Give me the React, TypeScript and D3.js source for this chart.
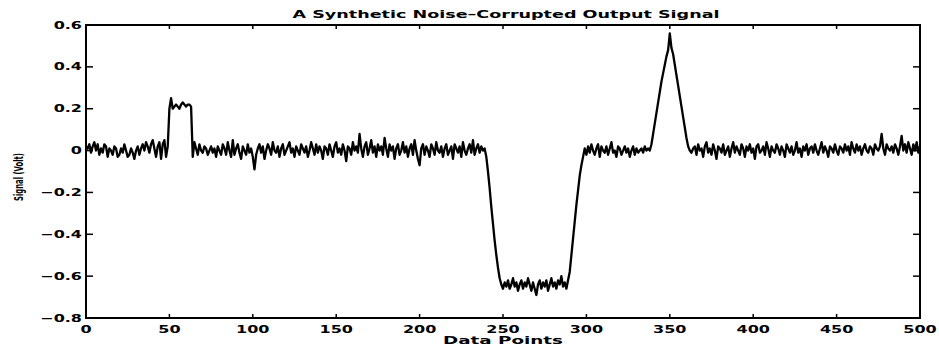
import React from "react";
import * as d3 from "d3";

// ---- data (volts), one value per data point index 0..500 ----
const baselineA = [
  0.02, 0.01, 0.03, -0.01, 0.02, 0.04, 0.00, 0.03, -0.02, 0.01,
  -0.01, 0.03, 0.02, -0.03, 0.01, 0.00, -0.02, 0.02, 0.01, -0.03,
  -0.02, 0.01, -0.01, 0.03, 0.00, -0.03, -0.02, 0.01, -0.01, -0.04,
  0.00, 0.02, -0.02, 0.01, 0.03, 0.00, 0.04, 0.02, -0.01, 0.03,
  0.05, 0.01, -0.03, 0.02, 0.04, -0.04, 0.03, 0.05, -0.03, 0.02,
];
const pulse = [0.20, 0.25, 0.20, 0.21, 0.22, 0.21, 0.20, 0.22, 0.23, 0.22, 0.21, 0.22, 0.22, 0.21];
const baselineB = [
  -0.03, 0.04, 0.01, -0.02, 0.03, 0.00, -0.01, 0.02, 0.01, -0.02,
  0.00, 0.02, -0.01, 0.01, -0.03, 0.02, 0.00, -0.02, 0.03, 0.01,
  -0.02, 0.04, 0.00, -0.03, 0.05, -0.02, 0.01, 0.03, -0.01, -0.04,
  0.02, 0.00, -0.02, 0.03, -0.01, 0.01, -0.03, -0.09, -0.02, 0.01,
  0.03, -0.01, 0.02, -0.04, 0.00, 0.03, 0.01, -0.02, 0.04, 0.00,
  -0.01, 0.02, -0.03, 0.01, 0.03, -0.02, 0.00, 0.02, 0.04, -0.01,
  0.01, -0.03, 0.02, 0.00, -0.02, 0.03, 0.01, -0.01, 0.02, -0.03,
  0.00, 0.04, 0.01, -0.02, 0.03, -0.01, 0.02, 0.00, -0.04, 0.02,
  0.01, -0.02, 0.03, 0.00, -0.03, 0.02, 0.04, -0.01, 0.01, -0.02,
  0.03, 0.00, -0.05, 0.02, 0.01, -0.02, 0.04, 0.00, 0.02, -0.01,
  0.08, 0.01, -0.03, 0.02, 0.04, -0.02, 0.01, 0.05, -0.01, 0.02,
  -0.03, 0.03, 0.00, 0.02, -0.02, 0.06, 0.01, -0.03, 0.03, 0.00,
  0.02, -0.04, 0.01, 0.03, -0.02, 0.00, 0.04, -0.01, 0.02, -0.03,
  0.01, 0.03, -0.02, 0.05, 0.00, -0.04, -0.07, 0.01, 0.03, -0.02,
  0.02, 0.00, -0.03, 0.03, 0.01, -0.02, 0.04, 0.00, -0.01, 0.02,
  -0.03, 0.01, 0.03, -0.02, 0.00, 0.02, -0.04, 0.03, 0.01, -0.01,
  0.02, -0.03, 0.04, 0.00, -0.02, 0.01, 0.03, -0.01, 0.05, -0.02,
  0.01, 0.03, -0.01, 0.02, 0.00, 0.01,
];
const dropEdge = [-0.03, -0.10, -0.18, -0.27, -0.35, -0.43, -0.50, -0.56, -0.61, -0.64, -0.66];
const plateau = [
  -0.63, -0.65, -0.62, -0.66, -0.64, -0.61, -0.65, -0.63, -0.67, -0.64,
  -0.62, -0.66, -0.63, -0.65, -0.61, -0.64, -0.67, -0.63, -0.66, -0.69,
  -0.64, -0.62, -0.66, -0.63, -0.65, -0.62, -0.67, -0.64, -0.61, -0.65,
  -0.63, -0.66, -0.62, -0.64, -0.60, -0.65, -0.63, -0.66, -0.62,
];
const riseEdge = [-0.58, -0.50, -0.42, -0.34, -0.26, -0.19, -0.12, -0.07, -0.03, 0.01, -0.02];
const baselineC = [
  0.02, -0.01, 0.03, 0.00, -0.02, 0.01, 0.03, -0.03, 0.02, 0.00,
  -0.01, 0.02, -0.02, 0.01, 0.04, -0.01, 0.00, -0.03, 0.02, 0.01,
  -0.02, 0.00, 0.02, -0.01, 0.01, -0.03, 0.00, 0.02, -0.02, 0.01,
  -0.01, 0.00,
];
const peak = [
  0.01, -0.01, 0.02, 0.00, 0.01, 0.00,
  0.03, 0.08, 0.13, 0.18, 0.23, 0.28, 0.33, 0.37, 0.41, 0.45,
  0.48, 0.56, 0.49, 0.46, 0.41, 0.36, 0.31, 0.26, 0.21, 0.16,
  0.11, 0.06, 0.02, 0.00, -0.01, 0.01,
];
const baselineD = [
  0.02, -0.02, 0.03, 0.00, 0.01, -0.03, 0.02, 0.04, -0.01, 0.01,
  -0.02, 0.03, 0.00, -0.04, 0.02, 0.01, -0.01, 0.03, -0.02, 0.00,
  0.02, -0.03, 0.01, 0.04, -0.01, 0.02, 0.00, -0.02, 0.03, 0.01,
  -0.03, 0.02, 0.00, 0.03, -0.01, 0.01, -0.04, 0.02, 0.03, -0.01,
  0.00, 0.02, -0.02, 0.04, 0.01, -0.03, 0.02, 0.00, -0.01, 0.03,
  0.01, -0.02, 0.02, 0.00, -0.03, 0.03, 0.01, -0.01, 0.02, -0.02,
  0.00, 0.04, -0.01, 0.01, -0.03, 0.02, 0.00, 0.03, -0.02, 0.01,
  0.02, -0.01, 0.03, 0.00, -0.02, 0.01, 0.04, -0.01, 0.02, 0.00,
  -0.03, 0.02, 0.01, -0.01, 0.03, 0.00, -0.02, 0.02, 0.01, -0.01,
  0.03, 0.00, 0.02, -0.02, 0.04, 0.01, -0.01, 0.03, 0.00, 0.02,
  -0.02, 0.01, 0.03, 0.00, -0.01, 0.02, 0.01, -0.02, 0.03, 0.01,
  0.00, 0.02, 0.08, 0.01, -0.02, 0.03, 0.01, 0.00, 0.02, -0.01,
  0.03, 0.01, -0.02, 0.02, 0.07, 0.00, 0.03, -0.01, 0.04, 0.01,
  -0.02, 0.03, 0.00, 0.04, -0.01, 0.02,
];

const signal = [
  ...baselineA, ...pulse, ...baselineB, ...dropEdge, ...plateau,
  ...riseEdge, ...baselineC, ...peak, ...baselineD,
];

const xTicks = [0, 50, 100, 150, 200, 250, 300, 350, 400, 450, 500];
const yTicks = [-0.8, -0.6, -0.4, -0.2, 0, 0.2, 0.4, 0.6];

const titleText = "A Synthetic Noise\u2013Corrupted Output Signal";
const xLabel = "Data Points";
const yLabel = "Signal (Volt)";

const W = 939;
const H = 350;
const M = { left: 86, right: 920, top: 25, bottom: 318 };
const FONT = "'DejaVu Sans', Arial, sans-serif";

function fmt(v: number) {
  if (Math.abs(v) < 1e-9) return "0";
  const s = Math.abs(v).toFixed(1);
  return (v < 0 ? "\u2212" : "") + s;
}

export default function App() {
  const x = d3.scaleLinear().domain([0, 500]).range([M.left, M.right]);
  const y = d3.scaleLinear().domain([-0.8, 0.6]).range([M.bottom, M.top]);
  const line = d3
    .line<number>()
    .x((_, i) => x(i))
    .y((d) => y(d))
    .curve(d3.curveLinear);

  return (
    <svg
      width={W}
      height={H}
      style={{ position: "absolute", left: 0, top: 0, background: "#fff" }}
    >
      <rect x={0} y={0} width={W} height={H} fill="#fff" />
      {/* data line */}
      <path
        d={line(signal) || ""}
        fill="none"
        stroke="#000"
        strokeWidth={2.3}
        strokeLinejoin="round"
      />
      {/* frame */}
      <rect
        x={M.left}
        y={M.top}
        width={M.right - M.left}
        height={M.bottom - M.top}
        fill="none"
        stroke="#000"
        strokeWidth={2}
      />
      {/* x ticks (bottom & top, inward) */}
      {xTicks.map((t) => (
        <g key={"x" + t}>
          <line x1={x(t)} x2={x(t)} y1={M.bottom} y2={M.bottom - 4} stroke="#000" strokeWidth={1.5} />
          <line x1={x(t)} x2={x(t)} y1={M.top} y2={M.top + 4} stroke="#000" strokeWidth={1.5} />
          <text
            transform={`translate(${x(t)},${M.bottom + 15}) scale(1.6,1)`}
            textAnchor="middle"
            fontFamily={FONT}
            fontWeight="bold"
            fontSize={10}
            fill="#000"
          >
            {String(t)}
          </text>
        </g>
      ))}
      {/* y ticks (left & right, inward) */}
      {yTicks.map((t) => (
        <g key={"y" + t}>
          <line x1={M.left} x2={M.left + 7} y1={y(t)} y2={y(t)} stroke="#000" strokeWidth={1.5} />
          <line x1={M.right} x2={M.right - 7} y1={y(t)} y2={y(t)} stroke="#000" strokeWidth={1.5} />
          <text
            transform={`translate(${M.left - 4},${y(t) + 3.5}) scale(1.6,1)`}
            textAnchor="end"
            fontFamily={FONT}
            fontWeight="bold"
            fontSize={10}
            fill="#000"
          >
            {fmt(t)}
          </text>
        </g>
      ))}
      {/* title */}
      <text
        x={(M.left + M.right) / 2 + 3}
        y={18}
        textAnchor="middle"
        fontFamily={FONT}
        fontWeight="bold"
        fontSize={11}
        textLength={427}
        lengthAdjust="spacingAndGlyphs"
        fill="#000"
      >
        {titleText}
      </text>
      {/* x label */}
      <text
        x={(M.left + M.right) / 2}
        y={344}
        textAnchor="middle"
        fontFamily={FONT}
        fontWeight="bold"
        fontSize={11}
        textLength={120}
        lengthAdjust="spacingAndGlyphs"
        fill="#000"
      >
        {xLabel}
      </text>
      {/* y label */}
      <text
        transform={`translate(23,177) rotate(-90)`}
        textAnchor="middle"
        fontFamily={FONT}
        fontWeight="bold"
        fontSize={12}
        textLength={48}
        lengthAdjust="spacingAndGlyphs"
        fill="#000"
      >
        {yLabel}
      </text>
    </svg>
  );
}
